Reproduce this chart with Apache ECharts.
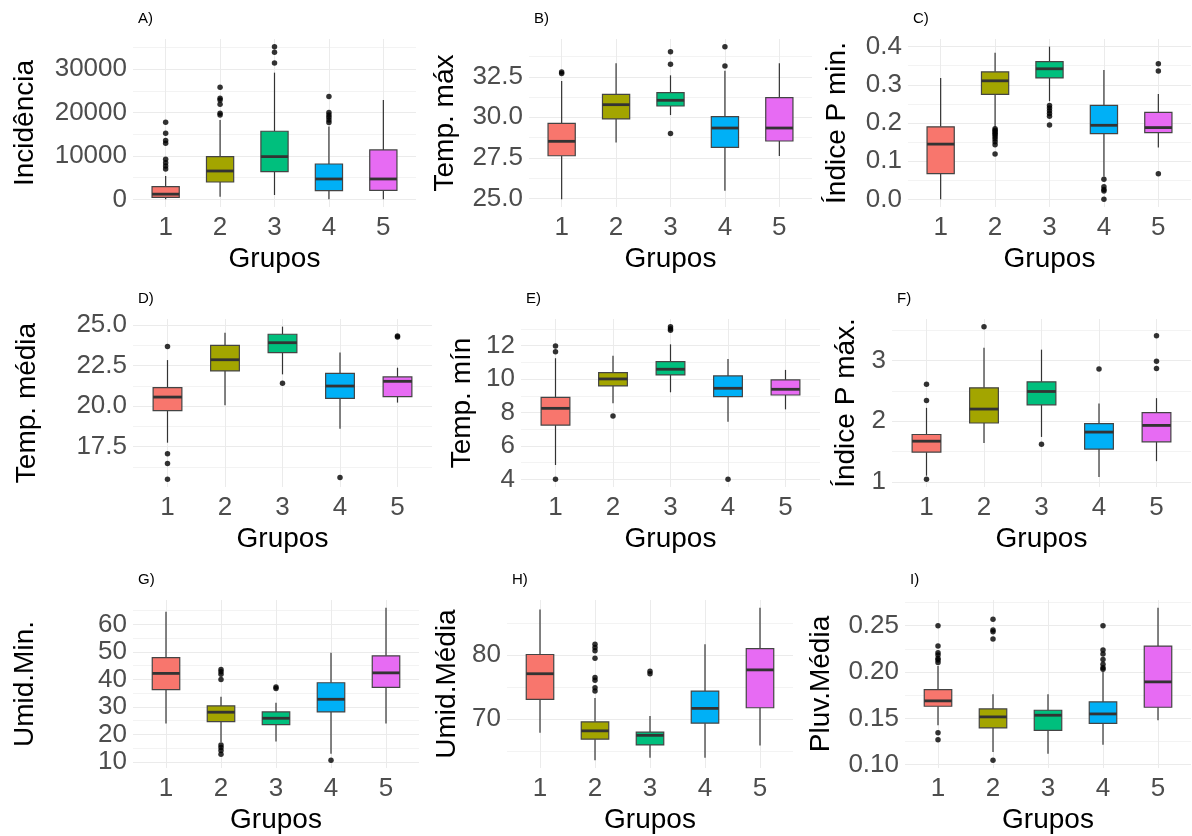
<!DOCTYPE html>
<html>
<head>
<meta charset="utf-8">
<script src="https://cdn.jsdelivr.net/npm/echarts@6/dist/echarts.min.js"></script>
<style>
  html, body { margin: 0; padding: 0; background: #fff; }
  #chart { width: 1192px; height: 836px; }
</style>
</head>
<body>
<div id="chart"></div>
<script>
// grupos e cores (paleta padrão do ggplot)
const groups = [1, 2, 3, 4, 5];
const groupColors = ["#F8766D", "#A3A500", "#00BF7D", "#00B0F6", "#E76BF3"];

// caixas: [limite inferior, Q1, mediana, Q3, limite superior] por grupo
const incidenciaBox = [
  [0, 460, 1200, 2920, 5380],
  [600, 4000, 6540, 9850, 18300],
  [1000, 6380, 9850, 15700, 29200],
  [0, 2000, 4700, 8150, 16770],
  [0, 2080, 4700, 11400, 22900]
];
const incidenciaOut = [
  [1, 17780], [1, 15240], [1, 13540], [1, 12930], [1, 9240], [1, 8460], [1, 7690], [1, 7000],
  [2, 25850], [2, 23300], [2, 22900], [2, 21900], [2, 19850], [2, 19460],
  [3, 35200], [3, 33900], [3, 31400],
  [4, 23700], [4, 20000], [4, 19460], [4, 18900], [4, 18300], [4, 17700]
];

const tempMaxBox = [
  [24.94, 27.63, 28.52, 29.63, 32.24],
  [28.44, 29.90, 30.78, 31.42, 33.33],
  [30.14, 30.70, 31.05, 31.52, 32.59],
  [25.47, 28.15, 29.34, 30.04, 32.88],
  [27.61, 28.54, 29.34, 31.21, 33.33]
];
const tempMaxOut = [
  [1, 32.8], [1, 32.7],
  [3, 34.05], [3, 33.27], [3, 29.01],
  [4, 34.36], [4, 33.17]
];

const indiceMinBox = [
  [0, 0.0675, 0.1447, 0.190, 0.318],
  [0.190, 0.275, 0.3105, 0.334, 0.384],
  [0.257, 0.318, 0.342, 0.361, 0.400],
  [0.06, 0.172, 0.194, 0.246, 0.339],
  [0.136, 0.175, 0.188, 0.228, 0.276]
];
const indiceMinOut = [
  [2, 0.185], [2, 0.181], [2, 0.177], [2, 0.173], [2, 0.169], [2, 0.164], [2, 0.158], [2, 0.151], [2, 0.143], [2, 0.119],
  [3, 0.246], [3, 0.239], [3, 0.232], [3, 0.225], [3, 0.218], [3, 0.195],
  [4, 0.053], [4, 0.033], [4, 0.026], [4, 0.022], [4, 0.0],
  [5, 0.355], [5, 0.336], [5, 0.067]
];

const tempMediaBox = [
  [17.75, 19.72, 20.56, 21.14, 22.84],
  [20.05, 22.17, 22.86, 23.75, 24.53],
  [21.96, 23.30, 23.91, 24.43, 24.90],
  [18.61, 20.48, 21.24, 22.02, 23.30],
  [20.22, 20.59, 21.53, 21.80, 22.37]
];
const tempMediaOut = [
  [1, 23.67], [1, 17.07], [1, 16.46], [1, 15.49],
  [3, 21.41],
  [4, 15.60],
  [5, 24.32], [5, 24.26]
];

const tempMinBox = [
  [4.86, 7.25, 8.25, 8.91, 11.25],
  [8.55, 9.59, 10.01, 10.39, 11.40],
  [9.21, 10.25, 10.59, 11.05, 12.08],
  [7.45, 8.95, 9.45, 10.19, 11.21],
  [8.19, 9.05, 9.39, 9.95, 10.55]
];
const tempMinOut = [
  [1, 11.98], [1, 11.64], [1, 4.0],
  [2, 7.79],
  [3, 13.14], [3, 13.02], [3, 12.92],
  [4, 4.0]
];

const indiceMaxBox = [
  [1.10, 1.49, 1.67, 1.78, 2.22],
  [1.64, 1.97, 2.20, 2.55, 3.21],
  [1.74, 2.27, 2.49, 2.65, 3.18],
  [1.08, 1.54, 1.82, 1.96, 2.29],
  [1.34, 1.66, 1.93, 2.14, 2.38]
];
const indiceMaxOut = [
  [1, 2.61], [1, 2.34], [1, 1.04],
  [2, 3.56],
  [3, 1.62],
  [4, 2.86],
  [5, 3.41], [5, 2.99], [5, 2.87]
];

const umidMinBox = [
  [24.0, 36.3, 42.2, 47.9, 64.6],
  [17.3, 24.7, 28.1, 30.4, 33.7],
  [17.5, 23.6, 25.9, 28.2, 31.5],
  [13.0, 28.2, 32.8, 38.8, 49.7],
  [24.0, 37.1, 42.4, 48.6, 66.1]
];
const umidMinOut = [
  [2, 43.6], [2, 42.8], [2, 41.9], [2, 40.0], [2, 16.2], [2, 15.3], [2, 14.2], [2, 12.8],
  [3, 37.3], [3, 36.7],
  [4, 10.6]
];

const umidMediaBox = [
  [67.9, 73.1, 77.1, 80.1, 87.1],
  [63.6, 66.9, 68.2, 69.6, 73.3],
  [64.0, 66.0, 67.5, 68.0, 70.5],
  [64.0, 69.4, 71.7, 74.4, 81.7],
  [65.9, 71.8, 77.7, 81.0, 87.4]
];
const umidMediaOut = [
  [2, 81.7], [2, 81.2], [2, 80.7], [2, 79.5], [2, 76.5], [2, 76.1], [2, 74.9], [2, 74.4],
  [3, 77.5], [3, 77.1]
];

const pluvMediaBox = [
  [0.1426, 0.1631, 0.1689, 0.1811, 0.2064],
  [0.1137, 0.1397, 0.1516, 0.1602, 0.1761],
  [0.1119, 0.1371, 0.1534, 0.1588, 0.1761],
  [0.1216, 0.1447, 0.1548, 0.1678, 0.2003],
  [0.148, 0.162, 0.1894, 0.228, 0.2695]
];
const pluvMediaOut = [
  [1, 0.250], [1, 0.228], [1, 0.2208], [1, 0.2183], [1, 0.2147], [1, 0.2129], [1, 0.2103], [1, 0.1346], [1, 0.127],
  [2, 0.2569], [2, 0.2453], [2, 0.2435], [2, 0.2356], [2, 0.1047],
  [4, 0.250], [4, 0.2237], [4, 0.2194], [4, 0.2136], [4, 0.2085], [4, 0.2046], [4, 0.2031]
];

// painéis (posição em px da área de plotagem)
const panels = [
  { tag: "A)", yName: "Incidência", box: incidenciaBox, out: incidenciaOut, step: 10000, dec: 0, left: 133, top: 39, width: 283, gap: 94 },
  { tag: "B)", yName: "Temp. máx", box: tempMaxBox, out: tempMaxOut, step: 2.5, dec: 1, left: 529, top: 39, width: 283, gap: 70 },
  { tag: "C)", yName: "Índice P min.", box: indiceMinBox, out: indiceMinOut, step: 0.1, dec: 1, left: 908, top: 39, width: 283, gap: 57 },
  { tag: "D)", yName: "Temp. média", box: tempMediaBox, out: tempMediaOut, step: 2.5, dec: 1, left: 133, top: 319, width: 299, gap: 92 },
  { tag: "E)", yName: "Temp. mín", box: tempMinBox, out: tempMinOut, step: 2, dec: 0, left: 521, top: 319, width: 299, gap: 45 },
  { tag: "F)", yName: "Índice P máx.", box: indiceMaxBox, out: indiceMaxOut, step: 1, dec: 0, left: 892, top: 319, width: 299, gap: 32 },
  { tag: "G)", yName: "Umid.Min.", box: umidMinBox, out: umidMinOut, step: 10, dec: 0, left: 133, top: 600, width: 286, gap: 94 },
  { tag: "H)", yName: "Umid.Média", box: umidMediaBox, out: umidMediaOut, step: 10, dec: 0, left: 507, top: 600, width: 286, gap: 46 },
  { tag: "I)", yName: "Pluv.Média", box: pluvMediaBox, out: pluvMediaOut, step: 0.05, dec: 2, left: 905, top: 600, width: 286, gap: 70 }
];

const FONT = "Liberation Sans";
const PANEL_H = 168;

function renderBox(params, api) {
  const g = api.value(0);
  const low = api.coord([g, api.value(1)]);
  const q1 = api.coord([g, api.value(2)]);
  const med = api.coord([g, api.value(3)]);
  const q3 = api.coord([g, api.value(4)]);
  const high = api.coord([g, api.value(5)]);
  const w = api.size([0.5, 0])[0];
  const cx = med[0];
  const edge = { stroke: "#333333", lineWidth: 1.2 };
  return {
    type: "group",
    children: [
      { type: "line", shape: { x1: cx, y1: high[1], x2: cx, y2: q3[1] }, style: edge },
      { type: "line", shape: { x1: cx, y1: q1[1], x2: cx, y2: low[1] }, style: edge },
      {
        type: "rect",
        shape: { x: cx - w / 2, y: q3[1], width: w, height: q1[1] - q3[1] },
        style: { fill: groupColors[g - 1], stroke: "#444444", lineWidth: 1.2 }
      },
      { type: "line", shape: { x1: cx - w / 2, y1: med[1], x2: cx + w / 2, y2: med[1] }, style: { stroke: "#333333", lineWidth: 2.8 } }
    ]
  };
}

const grid = [], xAxis = [], yAxis = [], series = [], title = [];

panels.forEach((p, i) => {
  // extensão do eixo y como no ggplot (5% de cada lado)
  const vals = p.box.flat().concat(p.out.map((o) => o[1]));
  const lo = Math.min(...vals), hi = Math.max(...vals);
  const pad = (hi - lo) * 0.05;

  grid.push({ left: p.left, top: p.top, width: p.width, height: PANEL_H });
  title.push({
    text: p.tag, left: p.left, top: p.top - 33,
    textStyle: { fontFamily: FONT, fontSize: 15, fontWeight: "normal", color: "#000" }
  });

  xAxis.push({
    type: "value", gridIndex: i, min: 0.4, max: 5.6,
    minInterval: 1, maxInterval: 1, splitNumber: 5,
    axisLine: { show: false }, axisTick: { show: false },
    axisLabel: { showMinLabel: false, showMaxLabel: false, margin: 8, fontFamily: FONT, fontSize: 26, color: "#4D4D4D" },
    splitLine: { show: true, showMinLine: false, showMaxLine: false, lineStyle: { color: "#EBEBEB", width: 1 } },
    name: "Grupos", nameLocation: "middle", nameGap: 38,
    nameTextStyle: { fontFamily: FONT, fontSize: 28, color: "#000" }
  });

  yAxis.push({
    type: "value", gridIndex: i, min: lo - pad, max: hi + pad,
    minInterval: p.step, maxInterval: p.step, splitNumber: 4,
    axisLine: { show: false }, axisTick: { show: false },
    axisLabel: {
      showMinLabel: false, showMaxLabel: false, margin: 6,
      fontFamily: FONT, fontSize: 26, color: "#4D4D4D",
      formatter: (v) => v.toFixed(p.dec)
    },
    splitLine: { show: true, showMinLine: false, showMaxLine: false, lineStyle: { color: "#EBEBEB", width: 1 } },
    minorTick: { show: false, splitNumber: 2 },
    minorSplitLine: { show: true, lineStyle: { color: "#F3F3F3", width: 1 } },
    name: p.yName, nameLocation: "middle", nameRotate: 90, nameGap: p.gap,
    nameTextStyle: { fontFamily: FONT, fontSize: 28, color: "#000" }
  });

  series.push({
    type: "custom", xAxisIndex: i, yAxisIndex: i,
    dimensions: ["grupo", "low", "q1", "med", "q3", "high"],
    encode: { x: "grupo", y: ["low", "q1", "med", "q3", "high"] },
    data: groups.map((g, k) => [g].concat(p.box[k])),
    renderItem: renderBox,
    silent: true, animation: false
  });
  series.push({
    type: "scatter", xAxisIndex: i, yAxisIndex: i,
    data: p.out, symbolSize: 5.5,
    itemStyle: { color: "#000" },
    silent: true, animation: false, z: 3
  });
});

const chart = echarts.init(document.getElementById("chart"));
chart.setOption({
  backgroundColor: "#fff",
  animation: false,
  title: title,
  grid: grid,
  xAxis: xAxis,
  yAxis: yAxis,
  series: series
});
</script>
</body>
</html>
